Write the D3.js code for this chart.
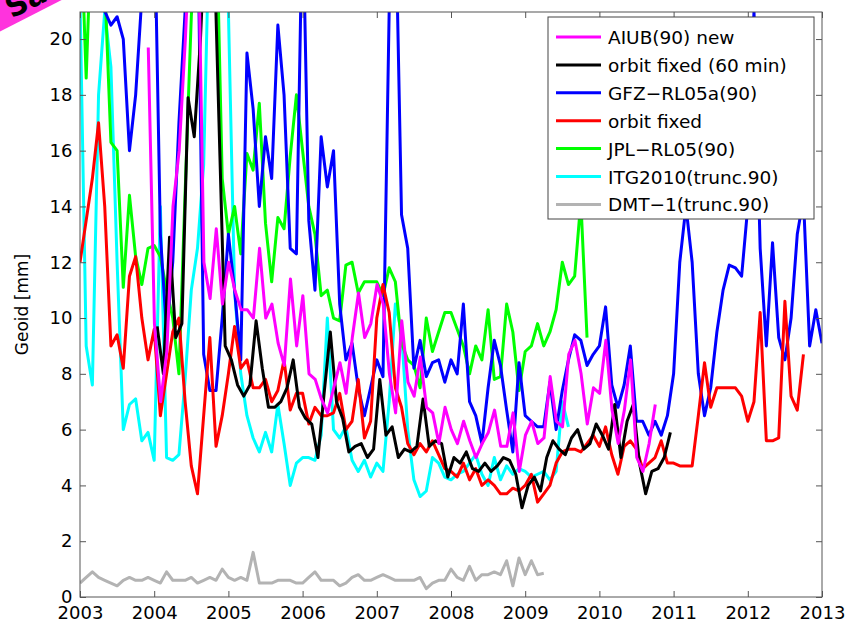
<!DOCTYPE html>
<html>
<head>
<meta charset="utf-8">
<script src="https://cdn.jsdelivr.net/npm/d3@7"></script>
<style>
  body { margin: 0; background: #fff; }
  text { font-family: "DejaVu Sans", sans-serif; }
</style>
</head>
<body>
<svg id="chart" width="856" height="625"></svg>
<script>
// monthly values, first value at the given start year
var aiubStart = 2003.92;
var aiub = [19.7,
  9.8, 7, 8.8, 14, 16, 20, 25, 25, 12, 10.7, 13.2, 10.5,
  12.0, 11.0, 10.3, 10.3, 10.0, 12.5, 10.0, 10.5, 9.1, 8.3, 11.4, 9.0,
  10.8, 8.0, 7.8, 7.1, 6.6, 7.5, 8.4, 7.3, 9.3, 10.9, 9.3, 9.8,
  11.2, 10.5, 8.0, 6.6, 9.9, 7.7, 7.2, 8.6, 6.8, 6.6, 5.5, 6.8,
  6.0, 5.5, 6.3, 5.6, 5.0, 5.5, 5.9, 6.7, 5.4, 5.4, 6.6, 4.5,
  5.8, 6.3, 5.5, 5.7, 7.9, 6.3, 6.1, 8.7, 9.2, 8.0, 6.2, 7.5,
  7.3, 9.2, 6.7, 5.5, 6.7, 8.5, 5.0, 4.5, 5.5, 6.9];
var orbit60Start = 2004.04;
var orbit60 = [9.7, 8.0, 12.9, 9.3, 9.8, 17.9, 16.5, 20, 25, 25, 17, 9,
  8.5, 7.6, 7.2, 7.6, 9.9, 8.2, 6.8, 6.8, 7.0, 7.5, 8.5, 6.8,
  6.4, 6.2, 5.0, 7.3, 9.5, 7.0, 6.4, 5.2, 5.4, 5.5, 5.0, 5.3,
  7.8, 5.8, 6.1, 5.0, 5.3, 5.2, 5.4, 7.1, 5.4, 5.6, 5.5, 4.3,
  5.0, 4.8, 5.2, 4.6, 4.5, 4.8, 4.5, 4.7, 5.0, 4.9, 4.4, 3.2,
  4.0, 4.3, 3.8, 5.0, 5.6, 5.3, 5.1, 5.7, 6.0, 5.3, 5.5, 6.2,
  5.8, 5.3, 6.9, 5.0, 6.3, 6.9, 4.8, 3.7, 4.5, 4.6, 5.0, 5.9];
var gfzStart = 2003.0;
var gfz = [25, 25, 25, 22, 21, 20.5, 20.8, 20, 16, 18, 21.5, 24,
  25, 13, 9.5, 12, 17, 21, 25, 25, 8.7, 7.4, 7.4, 10,
  13, 11, 8.5, 19.5, 17.5, 14, 16.5, 15, 20.5, 18, 12.5, 12.3,
  25, 13.5, 11, 16.5, 14.7, 16, 10.5, 8.5, 9.1, 7.5, 6.5, 7.5,
  8.5, 7.9, 21, 25, 13.7, 12.5, 8.2, 9.2, 7.9, 8.4, 8.5, 7.7,
  8.5, 8.0, 10.5, 7, 6.5, 5.5, 7.5, 9.2, 8.3, 6.7, 5.2, 8.4,
  6.5, 6.3, 6.1, 6.1, 7.7, 6.0, 7.4, 8.5, 9.4, 9.2, 8.3, 8.7,
  9.0, 10.4, 7.6, 6.8, 7.6, 9.0, 6.3, 6.3, 5.8, 6.3, 5.8, 6.5,
  8, 12, 14, 12, 8, 6.5, 7.5, 9.5, 11.0, 11.9, 11.8, 11.5,
  14, 21, 12.5, 9, 12.7, 9.3, 8.5, 10.0, 13, 14.3, 9.0, 10.3,
  9.1];
var orbitStart = 2003.0;
var orbit = [12, 13.5, 15, 17, 14, 9, 9.4, 8.2, 11.5, 12.2, 10, 8.5,
  9.6, 6.5, 8, 9.5, 10, 7, 4.7, 3.7, 6.5, 9.3, 5.4, 6.5,
  8, 9.7, 8.2, 8.5, 7.5, 7.5, 7.8, 7, 7.4, 8.5, 6.7, 7.3,
  7.3, 6.2, 6.8, 6.5, 6.5, 6.6, 7.3, 6, 6.3, 7.8, 5.7, 6.3,
  10, 11.2, 10.2, 7.5, 6.8, 5.5, 5.1, 5.5, 5.2, 5.6, 5.1, 4.6,
  4.5, 4.3, 4.8, 4.2, 4.6, 4.0, 4.2, 4.0, 3.7, 3.7, 3.9, 3.8,
  4.0, 4.4, 3.4, 3.7, 4.0, 4.8, 5.2, 5.3, 5.3, 5.2, 5.5, 5.8,
  5.4, 6.1, 5.1, 4.4, 5.4, 5.6, 5.3, 4.6, 4.8, 5.0, 5.6, 4.8,
  4.8, 4.7, 4.7, 4.7, 6.5, 8.4, 6.8, 7.5, 7.5, 7.5, 7.5, 7.2,
  6.3, 7.0, 10.2, 5.6, 5.6, 5.7, 10.6, 7.2, 6.7, 8.7];
var jplStart = 2003.0;
var jpl = [25, 18.6, 25, 25, 22, 16.3, 16, 11.1, 14.4, 12.2, 11.2, 12.5,
  12.6, 12.2, 11, 10, 8, 14.5, 20.8, 25, 25, 25, 25, 15,
  13, 14, 12.3, 15.9, 15.3, 17.7, 13.4, 11.3, 13.6, 13.2, 15.8, 18,
  16, 14, 13, 10.8, 11, 10, 9.9, 11.9, 12, 10.9, 11.3, 11.3,
  11.3, 10.8, 11.8, 11.3, 9.1, 8.5, 8.3, 7.5, 10, 8.8, 9.5, 10.2,
  10.2, 9.6, 9.0, 8.0, 9.0, 8.5, 10.3, 7.8, 7.9, 10.5, 9.5, 7.4,
  8.8, 9.0, 9.8, 9.0, 9.5, 10.3, 12.0, 11.2, 11.5, 14.2, 9.3];
var itgStart = 2003.0;
var itg = [21.5, 9, 7.6, 18, 21, 19, 12, 6, 6.9, 7.1, 5.6, 5.9,
  4.9, 14, 5, 4.9, 5.1, 7.8, 11, 12.5, 15.5, 25, 25, 25,
  21, 11, 8, 6.5, 5.7, 5.2, 5.9, 5.2, 6.9, 5.5, 4.0, 4.8,
  5.0, 5.0, 4.9, 5.8, 10.0, 6.0, 5.7, 6.1, 4.9, 4.5, 4.9, 4.3,
  4.8, 4.5, 7.0, 10.5, 9.5, 6, 4.2, 3.6, 3.8, 5.0, 4.8, 4.3,
  4.2, 4.4, 4.5, 4.8, 5.1, 4.4, 4.0, 5.0, 4.2, 4.7, 4.4, 4.6,
  4.5, 4.3, 4.4, 4.5, 4.2, 4.5, 7.0, 6.1];
var dmtStart = 2003.0;
var dmt = [0.5, 0.7, 0.9, 0.7, 0.6, 0.5, 0.4, 0.6, 0.7, 0.6, 0.6, 0.7,
  0.6, 0.5, 0.9, 0.6, 0.6, 0.6, 0.7, 0.5, 0.6, 0.7, 0.6, 1.0,
  0.7, 0.6, 0.7, 0.6, 1.6, 0.5, 0.5, 0.5, 0.6, 0.6, 0.6, 0.5,
  0.5, 0.7, 0.9, 0.6, 0.6, 0.6, 0.4, 0.5, 0.7, 0.8, 0.6, 0.6,
  0.7, 0.8, 0.7, 0.6, 0.6, 0.6, 0.6, 0.7, 0.3, 0.5, 0.6, 0.6,
  1.0, 0.7, 0.6, 1.1, 0.6, 0.8, 0.8, 0.9, 0.8, 1.3, 0.4, 1.4,
  0.8, 1.3, 0.8, 0.85];

var seriesNames = ['AIUB(90) new', 'orbit fixed (60 min)', 'GFZ\u2212RL05a(90)', 'orbit fixed',
  'JPL\u2212RL05(90)', 'ITG2010(trunc.90)', 'DMT\u22121(trunc.90)'];
var seriesColors = ['#ff00ff', '#000000', '#0000ff', '#ff0000', '#00ff00', '#00ffff', '#b3b3b3'];
var seriesData = [[aiubStart, aiub], [orbit60Start, orbit60], [gfzStart, gfz], [orbitStart, orbit],
  [jplStart, jpl], [itgStart, itg], [dmtStart, dmt]];
var xTicks = [2003, 2004, 2005, 2006, 2007, 2008, 2009, 2010, 2011, 2012, 2013];
var yTicks = [0, 2, 4, 6, 8, 10, 12, 14, 16, 18, 20];

var pLeft = 80, pRight = 822, pTop = 12, pBottom = 597;
var svg = d3.select('#chart');

var x = d3.scaleLinear().domain([2003, 2013]).range([pLeft, pRight]);
var y = d3.scaleLinear().domain([0, 20.97]).range([pBottom, pTop]);

svg.append('defs').append('clipPath').attr('id', 'clip')
  .append('rect').attr('x', pLeft).attr('y', pTop).attr('width', pRight - pLeft).attr('height', pBottom - pTop);

var line = d3.line().x(function(d) { return x(d[0]); }).y(function(d) { return y(d[1]); });

// draw in reverse order so AIUB sits on top
var drawOrder = [6, 5, 4, 2, 3, 1, 0];
drawOrder.forEach(function(k) {
  var start = seriesData[k][0];
  var pts = seriesData[k][1].map(function(v, i) { return [start + i / 12, v]; });
  svg.append('path')
    .attr('d', line(pts))
    .attr('clip-path', 'url(#clip)')
    .attr('fill', 'none')
    .attr('stroke', seriesColors[k])
    .attr('stroke-width', 3)
    .attr('stroke-linejoin', 'round');
});

// box and axes
svg.append('rect').attr('x', pLeft).attr('y', pTop).attr('width', pRight - pLeft).attr('height', pBottom - pTop)
  .attr('fill', 'none').attr('stroke', '#555').attr('stroke-width', 1);

var xAxis = svg.append('g').attr('transform', 'translate(0,' + pBottom + ')')
  .call(d3.axisBottom(x).tickValues(xTicks).tickFormat(d3.format('d')).tickSizeInner(-6).tickSizeOuter(0));
var xAxisTop = svg.append('g').attr('transform', 'translate(0,' + pTop + ')')
  .call(d3.axisTop(x).tickValues(xTicks).tickFormat('').tickSizeInner(-6).tickSizeOuter(0));
var yAxis = svg.append('g').attr('transform', 'translate(' + pLeft + ',0)')
  .call(d3.axisLeft(y).tickValues(yTicks).tickSizeInner(-6).tickSizeOuter(0));
var yAxisR = svg.append('g').attr('transform', 'translate(' + pRight + ',0)')
  .call(d3.axisRight(y).tickValues(yTicks).tickFormat('').tickSizeInner(-6).tickSizeOuter(0));
[xAxis, xAxisTop, yAxis, yAxisR].forEach(function(g) {
  g.select('.domain').remove();
  g.selectAll('line').attr('stroke', '#555');
  g.selectAll('text').attr('font-size', 18).attr('fill', '#000')
    .style('font-family', '"DejaVu Sans", sans-serif');
});
xAxis.selectAll('text').attr('dy', '1.05em');
yAxis.selectAll('text').attr('dx', '-0.25em');

svg.append('text').attr('transform', 'translate(28,' + ((pTop + pBottom) / 2) + ') rotate(-90)')
  .attr('text-anchor', 'middle').attr('font-size', 17).text('Geoid [mm]');

// legend
var lg = svg.append('g');
lg.append('rect').attr('x', 548).attr('y', 17).attr('width', 266).attr('height', 202)
  .attr('fill', '#fff').attr('stroke', '#444').attr('stroke-width', 1);
seriesNames.forEach(function(n, i) {
  var yy = 37 + i * 27.9;
  lg.append('line').attr('x1', 556).attr('x2', 601).attr('y1', yy).attr('y2', yy)
    .attr('stroke', seriesColors[i]).attr('stroke-width', 3);
  lg.append('text').attr('x', 608).attr('y', yy + 7).attr('font-size', 18.5).text(n);
});

// magenta corner banner
var banner = svg.append('g').attr('transform', 'rotate(-27)');
banner.append('rect').attr('x', -80).attr('y', -20).attr('width', 200).attr('height', 48).attr('fill', '#ff33dd');
banner.append('text').attr('x', 2).attr('y', 22).attr('font-size', 30).attr('font-weight', 'bold')
  .attr('fill', '#000').text('Sa');
</script>
</body>
</html>
